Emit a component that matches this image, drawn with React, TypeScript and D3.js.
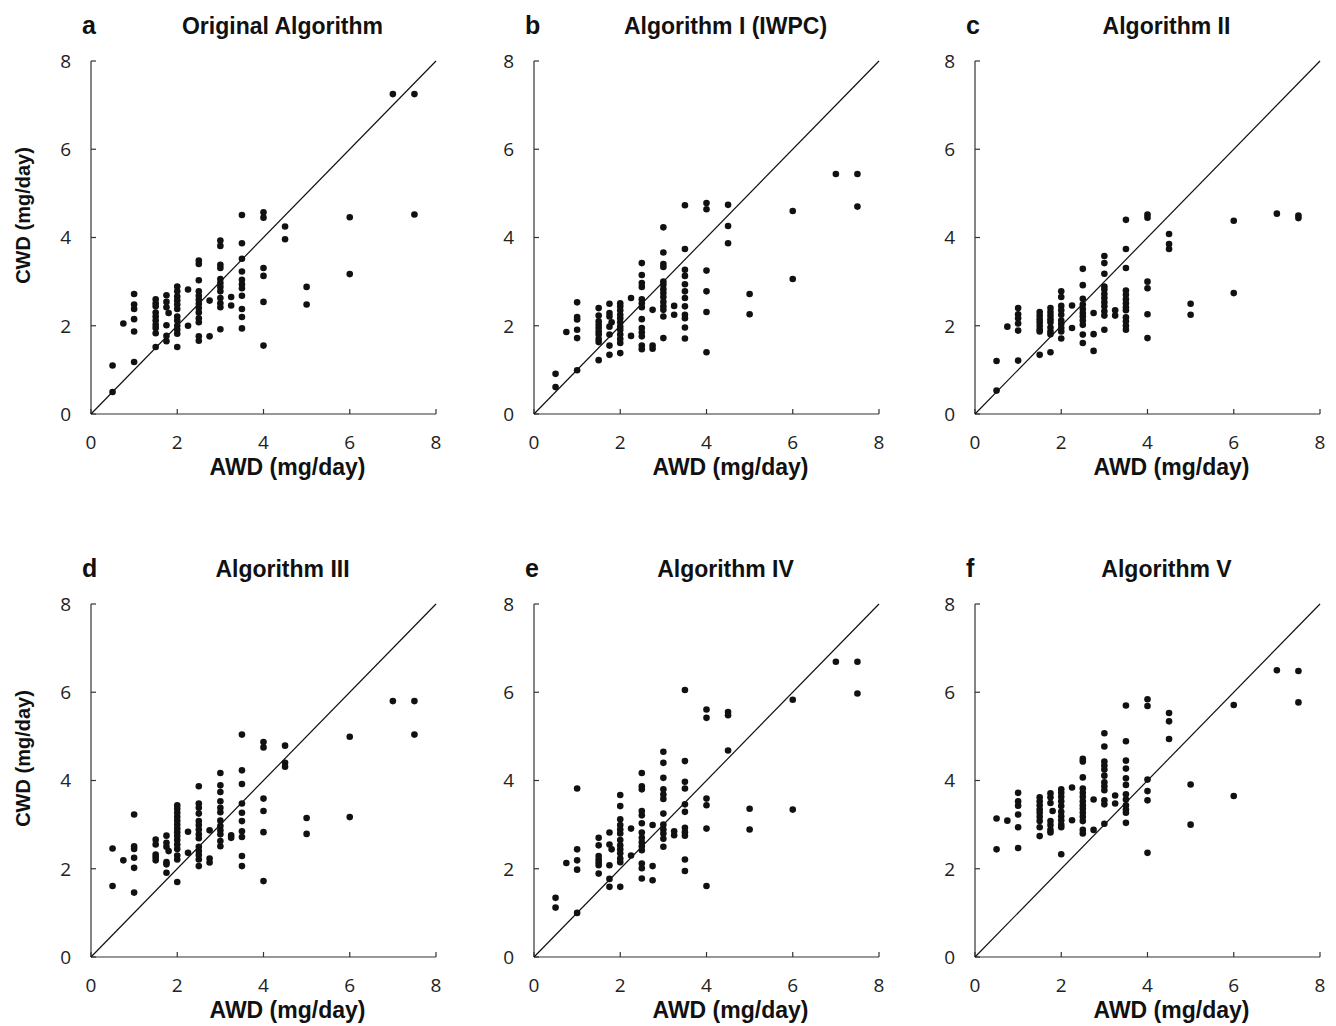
import React from 'react';
import * as d3 from 'd3';

// AWD (x) columns with the CWD (y) values
type Col = [number, number[]];

const originalAlgorithm: Col[] = [
  [0.5, [1.10, 0.50]], [0.75, [2.05]],
  [1, [2.72, 2.48, 2.38, 2.15, 1.87, 1.18]],
  [1.5, [2.60, 2.51, 2.44, 2.30, 2.21, 2.12, 2.02, 1.95, 1.83, 1.52]],
  [1.75, [2.69, 2.54, 2.42, 2.01, 1.77, 1.65]], [1.8, [2.29]],
  [2, [2.89, 2.78, 2.66, 2.57, 2.48, 2.38, 2.21, 2.12, 2.00, 1.91, 1.82, 1.52]],
  [2.25, [2.82, 2.00]],
  [2.5, [3.48, 3.40, 3.03, 2.78, 2.68, 2.59, 2.50, 2.40, 2.30, 2.17, 2.08, 1.76, 1.66]],
  [2.75, [2.57, 1.76]],
  [3, [3.93, 3.81, 3.38, 3.31, 3.06, 2.97, 2.88, 2.78, 2.63, 2.51, 2.42, 1.92]],
  [3.25, [2.65, 2.46]],
  [3.5, [4.51, 3.87, 3.52, 3.23, 3.04, 2.94, 2.85, 2.68, 2.38, 2.20, 1.94]],
  [4, [4.57, 4.45, 3.31, 3.13, 2.54, 1.55]],
  [4.5, [4.25, 3.96]], [5, [2.88, 2.48]], [6, [4.46, 3.17]],
  [7, [7.25]], [7.5, [7.25, 4.52]],
];

const algorithmI: Col[] = [
  [0.5, [0.91, 0.61]], [0.75, [1.86]],
  [1, [2.53, 2.20, 2.14, 1.91, 1.72, 0.99]],
  [1.5, [2.40, 2.23, 2.10, 2.02, 1.95, 1.87, 1.80, 1.70, 1.63, 1.22]],
  [1.75, [2.50, 2.29, 2.21, 1.98, 1.80, 1.55, 1.34]], [1.8, [2.08]],
  [2, [2.51, 2.44, 2.35, 2.25, 2.17, 2.08, 1.98, 1.91, 1.80, 1.70, 1.61, 1.38]],
  [2.25, [2.63, 1.77]],
  [2.5, [3.42, 3.15, 2.97, 2.88, 2.60, 2.51, 2.42, 2.15, 1.95, 1.85, 1.76, 1.55, 1.47]],
  [2.75, [2.36, 1.55, 1.48]],
  [3, [4.23, 3.66, 3.40, 3.33, 3.00, 2.93, 2.83, 2.74, 2.65, 2.54, 2.44, 2.36, 2.21, 1.72]],
  [3.25, [2.45, 2.25]],
  [3.5, [4.73, 3.74, 3.27, 3.13, 2.94, 2.78, 2.63, 2.44, 2.25, 2.17, 1.96, 1.71]],
  [4, [4.78, 4.64, 3.25, 2.78, 2.31, 1.40]],
  [4.5, [4.74, 4.26, 3.87]], [5, [2.72, 2.26]], [6, [4.60, 3.06]],
  [7, [5.44]], [7.5, [5.44, 4.70]],
];

const algorithmII: Col[] = [
  [0.5, [1.20, 0.53]], [0.75, [1.98]],
  [1, [2.40, 2.26, 2.17, 2.05, 1.89, 1.21]],
  [1.5, [2.31, 2.23, 2.15, 2.08, 2.00, 1.92, 1.87, 1.34]],
  [1.75, [2.40, 2.31, 2.23, 2.15, 2.08, 1.96, 1.87, 1.81, 1.40]],
  [2, [2.78, 2.65, 2.45, 2.35, 2.25, 2.12, 2.04, 1.95, 1.87, 1.71]],
  [2.25, [2.46, 1.95]],
  [2.5, [3.29, 2.92, 2.61, 2.48, 2.38, 2.29, 2.21, 2.12, 2.02, 1.80, 1.61]],
  [2.75, [2.29, 1.81, 1.43]],
  [3, [3.58, 3.42, 3.18, 2.89, 2.82, 2.72, 2.63, 2.53, 2.44, 2.33, 2.23, 1.91]],
  [3.25, [2.35, 2.23]],
  [3.5, [4.40, 3.74, 3.31, 2.80, 2.70, 2.60, 2.51, 2.42, 2.35, 2.19, 2.10, 2.00, 1.91]],
  [4, [4.52, 4.45, 3.00, 2.85, 2.26, 1.72]],
  [4.5, [4.08, 3.85, 3.74]], [5, [2.50, 2.25]], [6, [4.38, 2.74]],
  [7, [4.54]], [7.5, [4.50, 4.44]],
];

const algorithmIII: Col[] = [
  [0.5, [2.46, 1.61]], [0.75, [2.19]],
  [1, [3.23, 2.51, 2.45, 2.25, 2.02, 1.46]],
  [1.5, [2.66, 2.55, 2.32, 2.26, 2.19]],
  [1.75, [2.75, 2.59, 2.50, 2.15, 2.10, 1.91]], [1.8, [2.40]],
  [2, [3.44, 3.36, 3.27, 3.18, 3.09, 3.00, 2.91, 2.83, 2.74, 2.65, 2.55, 2.45, 2.30, 2.21, 1.70]],
  [2.25, [2.84, 2.36]],
  [2.5, [3.87, 3.48, 3.38, 3.25, 3.08, 2.99, 2.89, 2.78, 2.69, 2.50, 2.40, 2.31, 2.21, 2.06]],
  [2.75, [2.87, 2.23, 2.14]],
  [3, [4.17, 3.89, 3.74, 3.53, 3.38, 3.28, 3.09, 2.97, 2.87, 2.78, 2.63, 2.51]],
  [3.25, [2.76, 2.70]],
  [3.5, [5.04, 4.23, 3.92, 3.48, 3.27, 3.08, 2.85, 2.72, 2.29, 2.06]],
  [4, [4.87, 4.75, 3.59, 3.31, 2.83, 1.72]],
  [4.5, [4.79, 4.40, 4.31]], [5, [3.15, 2.79]], [6, [4.99, 3.17]],
  [7, [5.80]], [7.5, [5.80, 5.04]],
];

const algorithmIV: Col[] = [
  [0.5, [1.34, 1.12]], [0.75, [2.13]],
  [1, [3.82, 2.44, 2.19, 1.98, 1.00]],
  [1.5, [2.70, 2.53, 2.29, 2.21, 2.14, 2.08, 1.89]],
  [1.75, [2.82, 2.55, 2.08, 1.77, 1.59]], [1.8, [2.44]],
  [2, [3.67, 3.42, 3.12, 2.99, 2.89, 2.80, 2.65, 2.53, 2.44, 2.35, 2.23, 2.15, 1.59]],
  [2.25, [2.91, 2.30]],
  [2.5, [4.17, 3.87, 3.80, 3.31, 3.21, 3.03, 2.82, 2.70, 2.60, 2.51, 2.42, 2.12, 2.01, 1.78]],
  [2.75, [2.99, 2.06, 1.74]],
  [3, [4.65, 4.40, 4.06, 3.80, 3.68, 3.58, 3.25, 3.00, 2.89, 2.80, 2.68, 2.50]],
  [3.25, [2.85, 2.76]],
  [3.5, [6.05, 4.44, 3.97, 3.82, 3.46, 3.29, 2.93, 2.83, 2.75, 2.21, 1.95]],
  [4, [5.61, 5.42, 3.59, 3.44, 2.91, 1.61]],
  [4.5, [5.55, 5.48, 4.68]], [5, [3.36, 2.89]], [6, [5.83, 3.34]],
  [7, [6.69]], [7.5, [6.69, 5.97]],
];

const algorithmV: Col[] = [
  [0.5, [3.14, 2.44]], [0.75, [3.09]],
  [1, [3.72, 3.53, 3.43, 3.23, 2.94, 2.47]],
  [1.5, [3.62, 3.53, 3.44, 3.34, 3.27, 3.18, 3.08, 2.94, 2.74]],
  [1.75, [3.71, 3.62, 3.49, 3.08, 2.99, 2.88, 2.82]], [1.8, [3.31]],
  [2, [3.80, 3.72, 3.63, 3.53, 3.42, 3.29, 3.19, 3.10, 3.00, 2.94, 2.33]],
  [2.25, [3.84, 3.10]],
  [2.5, [4.49, 4.43, 4.07, 3.82, 3.72, 3.63, 3.53, 3.44, 3.36, 3.27, 3.18, 3.08, 2.88, 2.80]],
  [2.75, [3.57, 2.88]],
  [3, [5.07, 4.77, 4.43, 4.34, 4.25, 4.11, 3.96, 3.87, 3.78, 3.55, 3.46, 3.02]],
  [3.25, [3.66, 3.48]],
  [3.5, [5.70, 4.89, 4.45, 4.27, 4.05, 3.90, 3.69, 3.57, 3.44, 3.34, 3.27, 3.04]],
  [4, [5.84, 5.69, 4.02, 3.76, 3.55, 2.36]],
  [4.5, [5.53, 5.34, 4.94]], [5, [3.91, 3.00]], [6, [5.71, 3.65]],
  [7, [6.50]], [7.5, [6.48, 5.77]],
];

const panelLetters = ['a', 'b', 'c', 'd', 'e', 'f'];
const panelTitles = ['Original Algorithm', 'Algorithm I (IWPC)', 'Algorithm II', 'Algorithm III', 'Algorithm IV', 'Algorithm V'];
const panelData = [originalAlgorithm, algorithmI, algorithmII, algorithmIII, algorithmIV, algorithmV];
const tickValues = [0, 2, 4, 6, 8];
const xLabel = 'AWD (mg/day)';
const yLabel = 'CWD (mg/day)';

const colX = [91, 534, 975];
const rowY = [414, 957];
const plotW = 345;
const plotH = 353;

const boldFont = '"Liberation Sans", Arial, Helvetica, sans-serif';
const tickFont = '"Open Sans", "DejaVu Sans", sans-serif';

function Panel({ idx }: { idx: number }) {
  const x0 = colX[idx % 3];
  const y0 = rowY[Math.floor(idx / 3)];
  const x = d3.scaleLinear().domain([0, 8]).range([x0, x0 + plotW]);
  const y = d3.scaleLinear().domain([0, 8]).range([y0, y0 - plotH]);
  const points = panelData[idx].flatMap(([xv, ys]) => ys.map(yv => [xv, yv]));
  const line = d3.line<number>().x(d => x(d)).y(d => y(d));
  const midX = (x(0) + x(8)) / 2;

  return (
    <g>
      <text x={x0 - 9} y={y(8) - 27} fontFamily={boldFont} fontWeight="bold" fontSize={25} fill="#111">
        {panelLetters[idx]}
      </text>
      <text x={midX + 19} y={y(8) - 27} fontFamily={boldFont} fontWeight="bold" fontSize={23}
        textAnchor="middle" fill="#111">{panelTitles[idx]}</text>

      {/* axes */}
      <line x1={x(0)} x2={x(0)} y1={y(0)} y2={y(8)} stroke="#333" strokeWidth={1.2} />
      <line x1={x(0)} x2={x(8)} y1={y(0)} y2={y(0)} stroke="#333" strokeWidth={1.2} />
      {tickValues.map(t => (
        <g key={'t' + t}>
          <line x1={x(0)} x2={x(0) + 5} y1={y(t)} y2={y(t)} stroke="#333" strokeWidth={1.2} />
          <line x1={x(t)} x2={x(t)} y1={y(0)} y2={y(0) - 5} stroke="#333" strokeWidth={1.2} />
          <text x={x(0) - 20} y={y(t)} dy="0.36em" textAnchor="end" fontFamily={tickFont}
            fontSize={19} fill="#222">{t}</text>
          <text x={x(t)} y={y(0) + 35} textAnchor="middle" fontFamily={tickFont}
            fontSize={19} fill="#222">{t}</text>
        </g>
      ))}

      <text x={midX + 24} y={y(0) + 61} textAnchor="middle" fontFamily={boldFont}
        fontWeight="bold" fontSize={23} fill="#111">{xLabel}</text>
      {idx % 3 === 0 && (
        <text transform={`translate(${x0 - 61},${(y(0) + y(8)) / 2 - 22}) rotate(-90)`}
          textAnchor="middle" fontFamily={boldFont} fontWeight="bold" fontSize={20}
          fill="#111">{yLabel}</text>
      )}

      {/* line of identity */}
      <path d={line([0, 8]) || ''} stroke="#111" strokeWidth={1.2} fill="none" />

      {points.map((p, i) => (
        <circle key={i} cx={x(p[0])} cy={y(p[1])} r={3.3} fill="#111" />
      ))}
    </g>
  );
}

export default function App() {
  return (
    <div style={{ position: 'absolute', left: 0, top: 0 }}>
      <svg width={1336} height={1026} style={{ display: 'block', background: '#fff' }}>
        {panelData.map((_, i) => <Panel key={i} idx={i} />)}
      </svg>
    </div>
  );
}
